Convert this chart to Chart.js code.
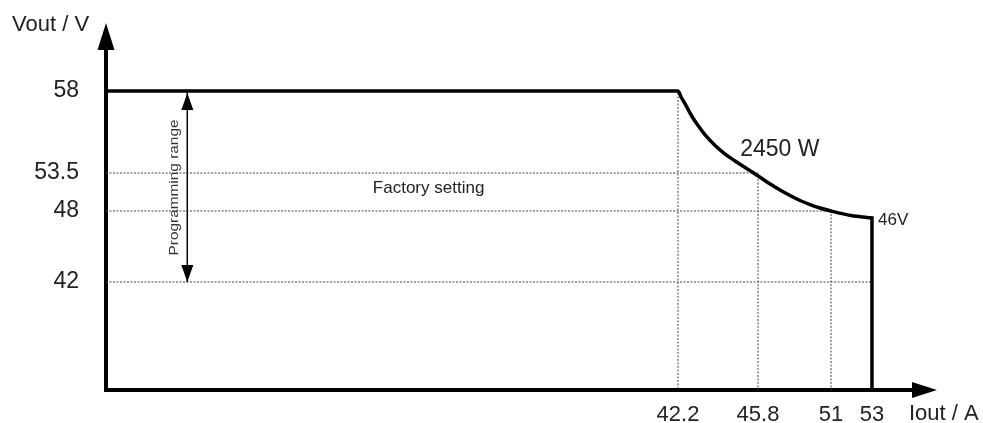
<!DOCTYPE html>
<html>
<head>
<meta charset="utf-8">
<script src="https://cdn.jsdelivr.net/npm/chart.js@4.4.1/dist/chart.umd.min.js"></script>
<style>
  html, body { margin: 0; padding: 0; background: #fff; }
</style>
</head>
<body>
<canvas id="curve" width="983" height="423"></canvas>
<script>
// output characteristic, values
const currentA = [0, 42.2, 42.34, 42.52, 42.83, 43.15, 43.42, 43.87, 44.32, 44.77, 45.22, 45.67, 46.44, 47.37, 48.08, 48.79, 49.5, 50.22, 51, 51.98, 53, 53];
const voltageV = [58, 58, 57.67, 57.29, 56.6, 56.02, 55.59, 55.01, 54.54, 54.16, 53.8, 53.36, 52.2, 51.04, 50.24, 49.52, 48.94, 48.43, 48, 46.71, 46, 30];

const xTicks = [42.2, 45.8, 51, 53];
const yTicks = [42, 48, 53.5, 58];

// dotted helper lines: current / voltage pairs
const guideCurrents = [42.2, 45.8, 51, 53];
const guideVoltages = [58, 53.5, 48, 42];

const progRange = [42, 58];
const progAt = 6;
const vMin = 30;

// the sketch is not drawn to scale, so the axes are piecewise linear between these knots
class KnotScale extends Chart.LinearScale {
  determineDataLimits() {
    const k = this.options.knots;
    this.min = k[0][0];
    this.max = k[k.length - 1][0];
  }
  getPixelForValue(value) {
    const k = this.options.knots;
    let i = 1;
    while (i < k.length - 1 && value > k[i][0]) i++;
    const [v0, f0] = k[i - 1];
    const [v1, f1] = k[i];
    return this.getPixelForDecimal(f0 + (value - v0) / (v1 - v0) * (f1 - f0));
  }
  getValueForPixel(pixel) {
    const k = this.options.knots;
    const d = this.getDecimalForPixel(pixel);
    let i = 1;
    while (i < k.length - 1 && d > k[i][1]) i++;
    const [v0, f0] = k[i - 1];
    const [v1, f1] = k[i];
    return v0 + (d - f0) / (f1 - f0) * (v1 - v0);
  }
}
KnotScale.id = 'knot';
KnotScale.defaults = Chart.LinearScale.defaults;
Chart.register(KnotScale);

const FONT = "'Liberation Sans', Arial, sans-serif";

function tri(ctx, a, b, c) {
  ctx.beginPath();
  ctx.moveTo(a[0], a[1]);
  ctx.lineTo(b[0], b[1]);
  ctx.lineTo(c[0], c[1]);
  ctx.closePath();
  ctx.fill();
}

const annotate = {
  id: 'annotate',
  afterDraw(chart) {
    const { ctx, chartArea: a, scales: { x, y } } = chart;
    ctx.save();
    ctx.fillStyle = '#000';
    // axis arrows
    tri(ctx, [a.left, a.top - 17], [a.left - 8.5, a.top + 10], [a.left + 8.5, a.top + 10]);
    tri(ctx, [a.right + 17, a.bottom], [a.right - 8, a.bottom - 8], [a.right - 8, a.bottom + 8]);

    // programming range double arrow heads
    const px = x.getPixelForValue(progAt);
    const top = y.getPixelForValue(progRange[1]) + 2;
    const bot = y.getPixelForValue(progRange[0]);
    tri(ctx, [px, top], [px - 6, top + 17], [px + 6, top + 17]);
    tri(ctx, [px, bot], [px - 6, bot - 17], [px + 6, bot - 17]);

    ctx.fillStyle = '#222';
    ctx.textBaseline = 'middle';
    ctx.textAlign = 'left';
    ctx.font = '22px ' + FONT;
    ctx.fillText('Vout / V', 12, 25);
    ctx.fillText('Iout / A', 909, 414);

    ctx.font = '23px ' + FONT;
    ctx.fillText('2450 W', x.getPixelForValue(45.0), y.getPixelForValue(54.76));

    ctx.font = '17px ' + FONT;
    ctx.fillText('46V', x.getPixelForValue(53) + 6, y.getPixelForValue(46) + 2);

    ctx.textAlign = 'center';
    ctx.fillText('Factory setting', x.getPixelForValue(23.8), y.getPixelForValue(51.3));

    // rotated label beside the double arrow
    ctx.save();
    ctx.translate(px - 13, (top + bot) / 2);
    ctx.rotate(-Math.PI / 2);
    ctx.font = '12px ' + FONT;
    ctx.fillStyle = '#333';
    const w = ctx.measureText('Programming range').width;
    ctx.scale(136 / w, 1);
    ctx.fillText('Programming range', 0, 0);
    ctx.restore();

    ctx.restore();
  }
};

const pts = currentA.map((c, i) => ({ x: c, y: voltageV[i] }));

const guides = guideCurrents.map((c, i) => ({
  data: [{ x: 0, y: guideVoltages[i] }, { x: c, y: guideVoltages[i] }, { x: c, y: vMin }],
  borderColor: '#444',
  borderWidth: 1,
  borderDash: [2, 1.5],
  pointRadius: 0,
  tension: 0
}));

new Chart(document.getElementById('curve'), {
  type: 'line',
  data: {
    datasets: [
      {
        // constant voltage part and the constant power curve
        data: pts.slice(0, -1),
        borderColor: '#000',
        borderWidth: 3.5,
        cubicInterpolationMode: 'monotone',
        pointRadius: 0
      },
      {
        // current limit drop
        data: pts.slice(-2),
        borderColor: '#000',
        borderWidth: 3.5,
        borderCapStyle: 'square',
        pointRadius: 0,
        tension: 0
      },
      {
        data: [{ x: progAt, y: progRange[1] }, { x: progAt, y: progRange[0] }],
        borderColor: '#000',
        borderWidth: 1,
        pointRadius: 0
      },
      ...guides
    ]
  },
  options: {
    responsive: false,
    animation: false,
    devicePixelRatio: 1,
    layout: { padding: { top: 40, right: 63, left: 0, bottom: 0 } },
    plugins: { legend: { display: false }, tooltip: { enabled: false } },
    scales: {
      x: {
        type: 'knot',
        position: 'bottom',
        knots: [[0, 0], [42.2, 0.7027], [45.8, 0.801], [51, 0.8907], [53, 0.941], [56, 1]],
        grid: { display: false, drawTicks: false },
        border: { display: true, color: '#000', width: 4 },
        afterBuildTicks: s => { s.ticks = xTicks.map(v => ({ value: v })); },
        afterFit: s => { s.height = 33; s.paddingLeft = s.paddingRight = 0; },
        ticks: {
          autoSkip: false, maxRotation: 0, padding: 12, color: '#222',
          font: { family: FONT, size: 22 },
          callback: v => String(v)
        }
      },
      y: {
        type: 'knot',
        position: 'left',
        knots: [[30, 0], [42, 0.3086], [46, 0.4914], [48, 0.5114], [53.5, 0.62], [58, 0.8543], [62, 1]],
        grid: { display: false, drawTicks: false },
        border: { display: true, color: '#000', width: 4 },
        afterBuildTicks: s => { s.ticks = yTicks.map(v => ({ value: v })); },
        afterFit: s => { s.width = 106; s.paddingTop = s.paddingBottom = 0; },
        ticks: {
          autoSkip: false, padding: 27, color: '#222',
          font: { family: FONT, size: 23 },
          callback: v => String(v)
        }
      }
    }
  },
  plugins: [annotate]
});
</script>
</body>
</html>
